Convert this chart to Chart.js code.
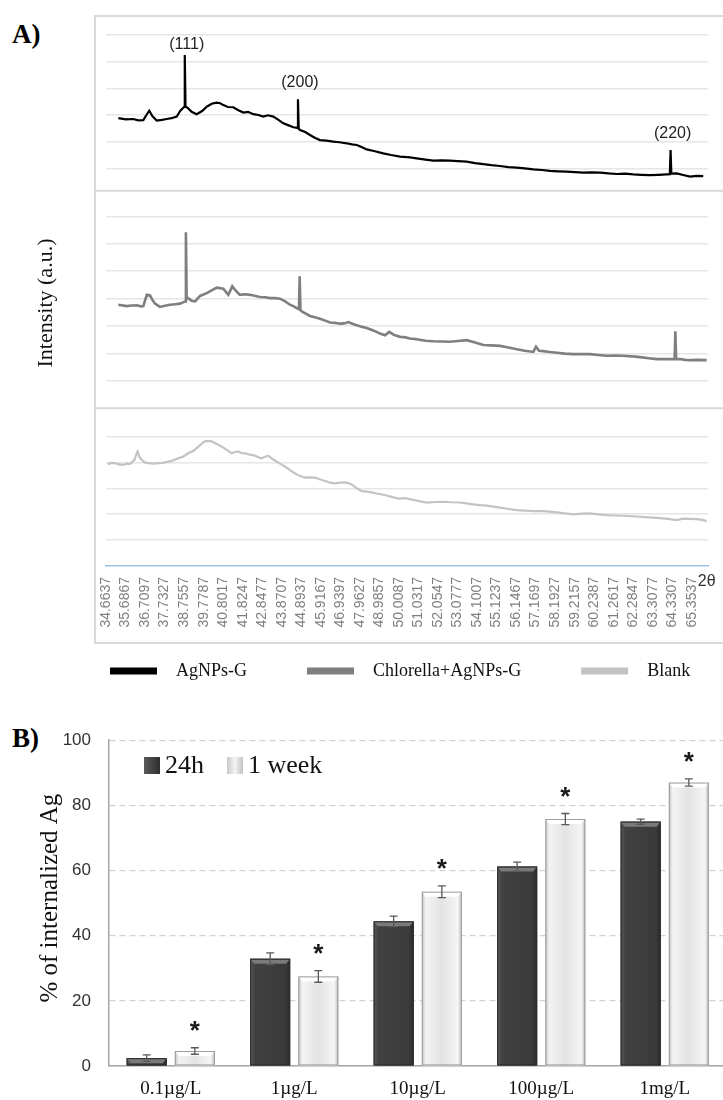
<!DOCTYPE html>
<html>
<head>
<meta charset="utf-8">
<script src="https://cdn.jsdelivr.net/npm/chart.js@4.4.1/dist/chart.umd.min.js"></script>
<style>
  html, body { margin: 0; padding: 0; background: #fff; overflow: hidden; }
  body { width: 723px; height: 1100px; position: relative; }
  #xrd { position: absolute; left: 0; top: 0; }
  #uptake { position: absolute; left: 0; top: 712px; }
  .tag { position: absolute; left: 12px; font: bold 27px "Liberation Serif", serif; line-height: 1; color: #000; }
</style>
</head>
<body>
<div class="tag" style="top:21px">A)</div>
<div class="tag" style="top:725px">B)</div>
<canvas id="xrd" width="723" height="712"></canvas>
<canvas id="uptake" width="730" height="388"></canvas>
<script>
// ---- panel A : XRD patterns (2θ, intensity a.u.) ----
const twoTheta = ["34.6637", "35.6867", "36.7097", "37.7327", "38.7557", "39.7787", "40.8017", "41.8247",
  "42.8477", "43.8707", "44.8937", "45.9167", "46.9397", "47.9627", "48.9857", "50.0087", "51.0317",
  "52.0547", "53.0777", "54.1007", "55.1237", "56.1467", "57.1697", "58.1927", "59.2157", "60.2387",
  "61.2617", "62.2847", "63.3077", "64.3307", "65.3537"]

const agnps = [[35.31, 1.88], [35.7, 1.84], [36.09, 1.85], [36.35, 1.80], [36.62, 1.81], [36.78, 2.0],
  [36.93, 2.16], [37.1, 1.95], [37.32, 1.79], [37.6, 1.82], [37.84, 1.85], [38.1, 1.88], [38.37, 1.94],
  [38.55, 2.15], [38.75, 2.3], [38.79, 4.25], [38.83, 2.3], [38.92, 2.28], [39.15, 2.12], [39.41, 2.03],
  [39.7, 2.15], [39.94, 2.31], [40.2, 2.42], [40.46, 2.46], [40.65, 2.44], [40.81, 2.37], [41.05, 2.30],
  [41.33, 2.29], [41.6, 2.18], [41.86, 2.09], [42.1, 2.12], [42.38, 2.03], [42.65, 2.0], [42.9, 1.94],
  [43.15, 1.99], [43.43, 1.94], [43.7, 1.82], [43.95, 1.69], [44.2, 1.62], [44.48, 1.54], [44.68, 1.52],
  [44.72, 2.59], [44.76, 1.48], [44.83, 1.44], [45.1, 1.36], [45.35, 1.25], [45.6, 1.15], [45.87, 1.06],
  [46.2, 1.04], [46.57, 1.0], [46.9, 0.98], [47.27, 0.94], [47.55, 0.9], [47.8, 0.875], [48.05, 0.8],
  [48.32, 0.71], [48.75, 0.64], [49.19, 0.56], [49.6, 0.5], [50.07, 0.44], [50.59, 0.41], [50.94, 0.375],
  [51.4, 0.33], [51.81, 0.29], [52.25, 0.30], [52.68, 0.29], [53.1, 0.27], [53.56, 0.25], [54.0, 0.2],
  [54.43, 0.16], [54.85, 0.12], [55.3, 0.09], [55.75, 0.05], [56.18, 0.025], [56.6, 0], [57.05, -0.04],
  [57.5, -0.06], [57.92, -0.09], [58.35, -0.11], [58.8, -0.125], [59.25, -0.14], [59.67, -0.16],
  [60.1, -0.15], [60.54, -0.16], [61.0, -0.19], [61.42, -0.21], [61.85, -0.2], [62.29, -0.225],
  [62.7, -0.24], [63.16, -0.25], [63.6, -0.24], [64.04, -0.225], [64.2, -0.22], [64.24, 0.69],
  [64.28, -0.2], [64.56, -0.19], [64.9, -0.25], [65.26, -0.31], [65.6, -0.28], [65.95, -0.29]]

const chlorella = [[35.31, 2.78], [35.75, 2.73], [36.0, 2.75], [36.27, 2.76], [36.5, 2.72], [36.62, 2.73],
  [36.8, 3.14], [36.97, 3.12], [37.1, 2.95], [37.23, 2.82], [37.49, 2.70], [37.75, 2.74], [38.02, 2.78],
  [38.3, 2.80], [38.54, 2.82], [38.81, 2.90], [38.85, 5.42], [38.89, 3.0], [38.97, 3.02], [39.15, 2.92],
  [39.33, 2.90], [39.59, 3.10], [39.94, 3.20], [40.2, 3.30], [40.46, 3.40], [40.81, 3.36], [41.07, 3.14],
  [41.28, 3.45], [41.45, 3.3], [41.68, 3.14], [41.95, 3.16], [42.21, 3.14], [42.5, 3.1], [42.73, 3.06],
  [43.0, 3.05], [43.25, 3.02], [43.5, 3.02], [43.78, 3.0], [44.05, 2.9], [44.3, 2.78], [44.5, 2.72],
  [44.65, 2.66], [44.77, 2.62], [44.81, 3.82], [44.85, 2.58], [44.92, 2.54], [45.15, 2.45], [45.35, 2.37],
  [45.6, 2.32], [45.87, 2.27], [46.15, 2.2], [46.4, 2.13], [46.65, 2.12], [46.92, 2.09], [47.15, 2.1],
  [47.36, 2.15], [47.6, 2.08], [47.8, 2.03], [48.05, 1.98], [48.32, 1.93], [48.6, 1.86], [48.84, 1.79],
  [49.05, 1.72], [49.28, 1.67], [49.5, 1.79], [49.75, 1.68], [50.07, 1.61], [50.3, 1.6], [50.59, 1.55],
  [50.94, 1.52], [51.4, 1.47], [51.81, 1.45], [52.25, 1.44], [52.68, 1.43], [53.1, 1.46], [53.56, 1.49],
  [54.0, 1.40], [54.43, 1.31], [54.85, 1.3], [55.3, 1.28], [55.75, 1.22], [56.18, 1.16], [56.6, 1.1],
  [57.05, 1.06], [57.19, 1.25], [57.35, 1.1], [57.57, 1.09], [57.9, 1.06], [58.27, 1.03], [58.7, 1.0],
  [59.14, 0.98], [59.6, 0.98], [60.02, 0.98], [60.45, 0.95], [60.89, 0.92], [61.3, 0.93], [61.76, 0.92],
  [62.2, 0.9], [62.64, 0.87], [63.1, 0.83], [63.51, 0.80], [63.9, 0.8], [64.21, 0.80], [64.45, 0.8],
  [64.49, 1.81], [64.53, 0.8], [64.73, 0.80], [65.0, 0.77], [65.26, 0.76], [65.7, 0.77], [66.13, 0.76]]

const blank = [[34.75, 3.93], [34.95, 3.98], [35.13, 3.97], [35.35, 3.92], [35.57, 3.90], [35.75, 3.95],
  [35.92, 3.93], [36.15, 4.10], [36.25, 4.30], [36.32, 4.42], [36.42, 4.2], [36.53, 4.10], [36.7, 4.0],
  [36.88, 3.97], [37.15, 3.95], [37.4, 3.97], [37.65, 3.98], [37.93, 4.03], [38.2, 4.08], [38.45, 4.16],
  [38.7, 4.22], [38.97, 4.35], [39.25, 4.45], [39.5, 4.61], [39.68, 4.72], [39.85, 4.81], [40.05, 4.83],
  [40.2, 4.81], [40.38, 4.74], [40.55, 4.68], [40.81, 4.57], [41.05, 4.45], [41.25, 4.35], [41.42, 4.40],
  [41.59, 4.42], [41.75, 4.36], [41.94, 4.35], [42.2, 4.3], [42.47, 4.26], [42.65, 4.2], [42.82, 4.16],
  [43.0, 4.22], [43.17, 4.26], [43.4, 4.12], [43.61, 4.03], [43.82, 3.93], [44.04, 3.84], [44.3, 3.7],
  [44.56, 3.58], [44.8, 3.48], [45.09, 3.41], [45.35, 3.42], [45.61, 3.41], [45.85, 3.35], [46.14, 3.28],
  [46.4, 3.22], [46.66, 3.19], [46.92, 3.22], [47.18, 3.23], [47.35, 3.2], [47.53, 3.15], [47.8, 3.0],
  [48.06, 2.89], [48.32, 2.87], [48.58, 2.84], [48.85, 2.8], [49.11, 2.76], [49.37, 2.72], [49.63, 2.67],
  [49.98, 2.6], [50.33, 2.62], [50.76, 2.55], [51.1, 2.5], [51.46, 2.45], [51.9, 2.47], [52.33, 2.48],
  [52.75, 2.46], [53.21, 2.45], [53.55, 2.42], [53.9, 2.38], [54.25, 2.35], [54.61, 2.33], [54.95, 2.29],
  [55.3, 2.25], [55.75, 2.2], [56.18, 2.16], [56.6, 2.14], [57.05, 2.12], [57.57, 2.12], [57.9, 2.10],
  [58.27, 2.07], [58.7, 2.03], [59.14, 1.99], [59.6, 2.02], [60.02, 2.03], [60.45, 1.99], [60.89, 1.96],
  [61.3, 1.95], [61.76, 1.94], [62.2, 1.92], [62.64, 1.90], [63.1, 1.88], [63.51, 1.86], [64.0, 1.83],
  [64.56, 1.77], [64.9, 1.83], [65.25, 1.82], [65.61, 1.81], [65.9, 1.78], [66.13, 1.73]]

const peakLabels = ["(111)", "(200)", "(220)"]
const peakTheta = [38.79, 44.72, 64.24]

// ---- panel B : internalized Ag ----
const concentrations = ["0.1µg/L", "1µg/L", "10µg/L", "100µg/L", "1mg/L"]
const uptake24h = [2.4, 32.9, 44.4, 61.2, 75.0]
const uptakeWeek = [4.6, 27.5, 53.5, 75.8, 87.0]
const err24h = [1.0, 1.8, 1.6, 1.4, 0.8]
const errWeek = [1.0, 1.8, 1.8, 1.7, 1.1]
const signif = ["*", "*", "*", "*", "*"]

const toPoints = (arr) => arr.map(([x, y]) => ({ x, y }))
const serif = '"Liberation Serif", "Times New Roman", serif'
const sans = '"Liberation Sans", Arial, sans-serif'

// stacked y panels, one per pattern
const panelScale = (min, max, weight, ticks) => ({
  type: "linear",
  position: "left",
  stack: "xrd",
  stackWeight: weight,
  min: min,
  max: max,
  afterBuildTicks: (s) => { s.ticks = ticks.map((v) => ({ value: v })) },
  afterFit: (s) => { s.width = 0 },
  ticks: { display: false },
  grid: { color: "#e6e6e6", lineWidth: 1.5, drawTicks: false },
  border: { display: false },
})

const xrdDecor = {
  id: "xrdDecor",
  beforeDatasetsDraw(chart) {
    const { ctx, chartArea, scales } = chart
    const left = chartArea.left - 11
    const bottom = chartArea.bottom + 77
    ctx.save()
    ctx.strokeStyle = "#d9d9d9"
    ctx.lineWidth = 2
    ctx.beginPath()
    ctx.moveTo(chart.width, chartArea.top)
    ctx.lineTo(left, chartArea.top)
    ctx.lineTo(left, bottom)
    ctx.lineTo(chart.width, bottom)
    ;[scales.yA.bottom, scales.yB.bottom].forEach((y) => {
      ctx.moveTo(left, y)
      ctx.lineTo(chart.width, y)
    })
    ctx.stroke()
    ctx.restore()
  },
  afterDraw(chart) {
    const { ctx, chartArea, scales } = chart
    ctx.save()
    // peak indices
    const gaps = [2, 9, 8]
    ctx.fillStyle = "#222"
    ctx.font = "16px " + sans
    ctx.textAlign = "center"
    ctx.textBaseline = "bottom"
    peakTheta.forEach((t, i) => {
      const p = agnps.find((d) => d[0] === t)
      ctx.fillText(peakLabels[i], scales.x.getPixelForValue(t) + 2, scales.yA.getPixelForValue(p[1]) - gaps[i])
    })
    // 2θ
    ctx.fillStyle = "#333"
    ctx.textAlign = "left"
    ctx.textBaseline = "middle"
    ctx.fillText("2θ", scales.x.getPixelForValue(parseFloat(twoTheta[twoTheta.length - 1])) + 6, chartArea.bottom + 16)
    // y title
    ctx.save()
    ctx.translate(46, (chartArea.top + chartArea.bottom) / 2 + 12)
    ctx.rotate(-Math.PI / 2)
    ctx.textAlign = "center"
    ctx.fillStyle = "#111"
    ctx.font = "22px " + serif
    ctx.fillText("Intensity (a.u.)", 0, 0)
    ctx.restore()
    // legend
    const ly = chartArea.bottom + 105
    let lx = 110
    ctx.font = "18px " + serif
    ctx.textBaseline = "middle"
    chart.data.datasets.forEach((ds) => {
      ctx.fillStyle = ds.borderColor
      ctx.fillRect(lx, ly - 3.5, 47, 7)
      ctx.fillStyle = "#111"
      ctx.fillText(ds.label, lx + 66, ly)
      lx += 66 + ctx.measureText(ds.label).width + 60
    })
    ctx.restore()
  },
}

new Chart(document.getElementById("xrd"), {
  type: "line",
  data: {
    datasets: [
      { label: "AgNPs-G", data: toPoints(agnps), borderColor: "#000000", borderWidth: 2.2, yAxisID: "yA" },
      { label: "Chlorella+AgNPs-G", data: toPoints(chlorella), borderColor: "#7f7f7f", borderWidth: 2.6, yAxisID: "yB" },
      { label: "Blank", data: toPoints(blank), borderColor: "#c3c3c3", borderWidth: 2.2, yAxisID: "yC" },
    ],
  },
  options: {
    responsive: false,
    animation: false,
    elements: { point: { radius: 0 }, line: { tension: 0 } },
    layout: { padding: { left: 106, right: 15, top: 16, bottom: 66 } },
    plugins: { legend: { display: false }, tooltip: { enabled: false } },
    scales: {
      x: {
        type: "linear",
        min: 34.6637,
        max: 66.2,
        afterBuildTicks: (s) => { s.ticks = twoTheta.map((t) => ({ value: parseFloat(t) })) },
        afterFit: (s) => { s.height = 80 },
        grid: { display: false, drawTicks: false },
        border: { color: "#9dc3e6", width: 1.5 },
        ticks: {
          autoSkip: false,
          minRotation: 90,
          maxRotation: 90,
          padding: 11,
          color: "#7f7f7f",
          font: { family: sans, size: 14 },
          callback: (v, i) => twoTheta[i],
        },
      },
      // the stack is laid out bottom-up, so the lowest panel is listed first
      yC: panelScale(0, 6.09, 157.7, [1, 2, 3, 4, 5]),
      yB: panelScale(-0.99, 6.93, 217.3, [0, 1, 2, 3, 4, 5, 6]),
      yA: panelScale(-0.84, 5.71, 174.7, [0, 1, 2, 3, 4, 5]),
    },
  },
  plugins: [xrdDecor],
})

// bevelled bars, error bars, asterisks, legend
const barDecor = {
  id: "barDecor",
  afterDatasetsDraw(chart) {
    const { ctx } = chart
    const yScale = chart.scales.y
    ctx.save()
    chart.data.datasets.forEach((ds, di) => {
      const dark = di === 0
      chart.getDatasetMeta(di).data.forEach((bar, j) => {
        const { x, y, base, width } = bar.getProps(["x", "y", "base", "width"], true)
        const l = x - width / 2
        const g = ctx.createLinearGradient(l, 0, l + width, 0)
        if (dark) {
          g.addColorStop(0, "#5a5a5a"); g.addColorStop(0.12, "#414141")
          g.addColorStop(0.88, "#3a3a3a"); g.addColorStop(1, "#2b2b2b")
        } else {
          g.addColorStop(0, "#c4c4c4"); g.addColorStop(0.1, "#f3f3f3"); g.addColorStop(0.5, "#e3e3e3")
          g.addColorStop(0.9, "#f5f5f5"); g.addColorStop(1, "#bcbcbc")
        }
        ctx.fillStyle = g
        ctx.fillRect(l, y, width, base - y)
        const cap = Math.min(5, base - y)
        ctx.fillStyle = dark ? "#7a7a7a" : "#ffffff"
        ctx.beginPath()
        ctx.moveTo(l, y); ctx.lineTo(l + width, y)
        ctx.lineTo(l + width - 4, y + cap); ctx.lineTo(l + 4, y + cap)
        ctx.closePath(); ctx.fill()
        ctx.strokeStyle = dark ? "#2a2a2a" : "#9c9c9c"
        ctx.lineWidth = 1
        ctx.strokeRect(l + 0.5, y + 0.5, width - 1, base - y - 1)
        // error bar
        const err = ds.errors[j]
        const v = ds.data[j]
        const top = yScale.getPixelForValue(v + err)
        const bot = yScale.getPixelForValue(v - err)
        ctx.strokeStyle = "#5a5a5a"
        ctx.lineWidth = 1.3
        ctx.beginPath()
        ctx.moveTo(x, top); ctx.lineTo(x, bot)
        ctx.moveTo(x - 4, top); ctx.lineTo(x + 4, top)
        ctx.moveTo(x - 4, bot); ctx.lineTo(x + 4, bot)
        ctx.stroke()
        if (!dark && signif[j]) {
          ctx.fillStyle = "#1a1a1a"
          ctx.font = "bold 26px " + sans
          ctx.textAlign = "center"
          ctx.textBaseline = "alphabetic"
          ctx.fillText(signif[j], x, top - 24 + 15)
        }
      })
    })
    // legend
    let lx = chart.chartArea.left + 35
    const ly = 53
    ctx.font = "26px " + serif
    ctx.textBaseline = "middle"
    ctx.textAlign = "left"
    chart.data.datasets.forEach((ds, di) => {
      const g = ctx.createLinearGradient(lx, 0, lx + 16, 0)
      if (di === 0) { g.addColorStop(0, "#5a5a5a"); g.addColorStop(1, "#2e2e2e") }
      else { g.addColorStop(0, "#c8c8c8"); g.addColorStop(0.5, "#f4f4f4"); g.addColorStop(1, "#c2c2c2") }
      ctx.fillStyle = g
      ctx.fillRect(lx, ly - 8, 16, 17)
      ctx.fillStyle = "#111"
      ctx.fillText(ds.label, lx + 21, ly + 1)
      lx += 21 + ctx.measureText(ds.label).width + 23
    })
    // y title
    ctx.translate(50, (chart.chartArea.top + chart.chartArea.bottom) / 2 - 5)
    ctx.rotate(-Math.PI / 2)
    ctx.textAlign = "center"
    ctx.font = "25px " + serif
    ctx.fillText("% of internalized Ag", 0, 0)
    ctx.restore()
  },
}

new Chart(document.getElementById("uptake"), {
  type: "bar",
  data: {
    labels: concentrations,
    datasets: [
      { label: "24h", data: uptake24h, errors: err24h, backgroundColor: "#3d3d3d" },
      { label: "1 week", data: uptakeWeek, errors: errWeek, backgroundColor: "#e6e6e6" },
    ],
  },
  options: {
    responsive: false,
    animation: false,
    layout: { padding: { left: 0, right: 3.5, top: 27, bottom: 0 } },
    datasets: { bar: { categoryPercentage: 0.78, barPercentage: 0.83 } },
    plugins: { legend: { display: false }, tooltip: { enabled: false } },
    scales: {
      x: {
        afterFit: (s) => { s.height = 34 },
        grid: { display: false, drawTicks: false },
        border: { color: "#a6a6a6", width: 1.5 },
        ticks: { color: "#111", padding: 12, font: { family: serif, size: 19 } },
      },
      y: {
        min: 0,
        max: 100,
        afterFit: (s) => { s.width = 109 },
        ticks: { stepSize: 20, padding: 18, color: "#333", font: { family: sans, size: 17 } },
        grid: { color: "#d2d2d2", lineWidth: 1.2, drawTicks: false },
        border: { color: "#a6a6a6", width: 1.5, dash: [6, 4] },
      },
    },
  },
  plugins: [barDecor],
})
</script>
</body>
</html>
